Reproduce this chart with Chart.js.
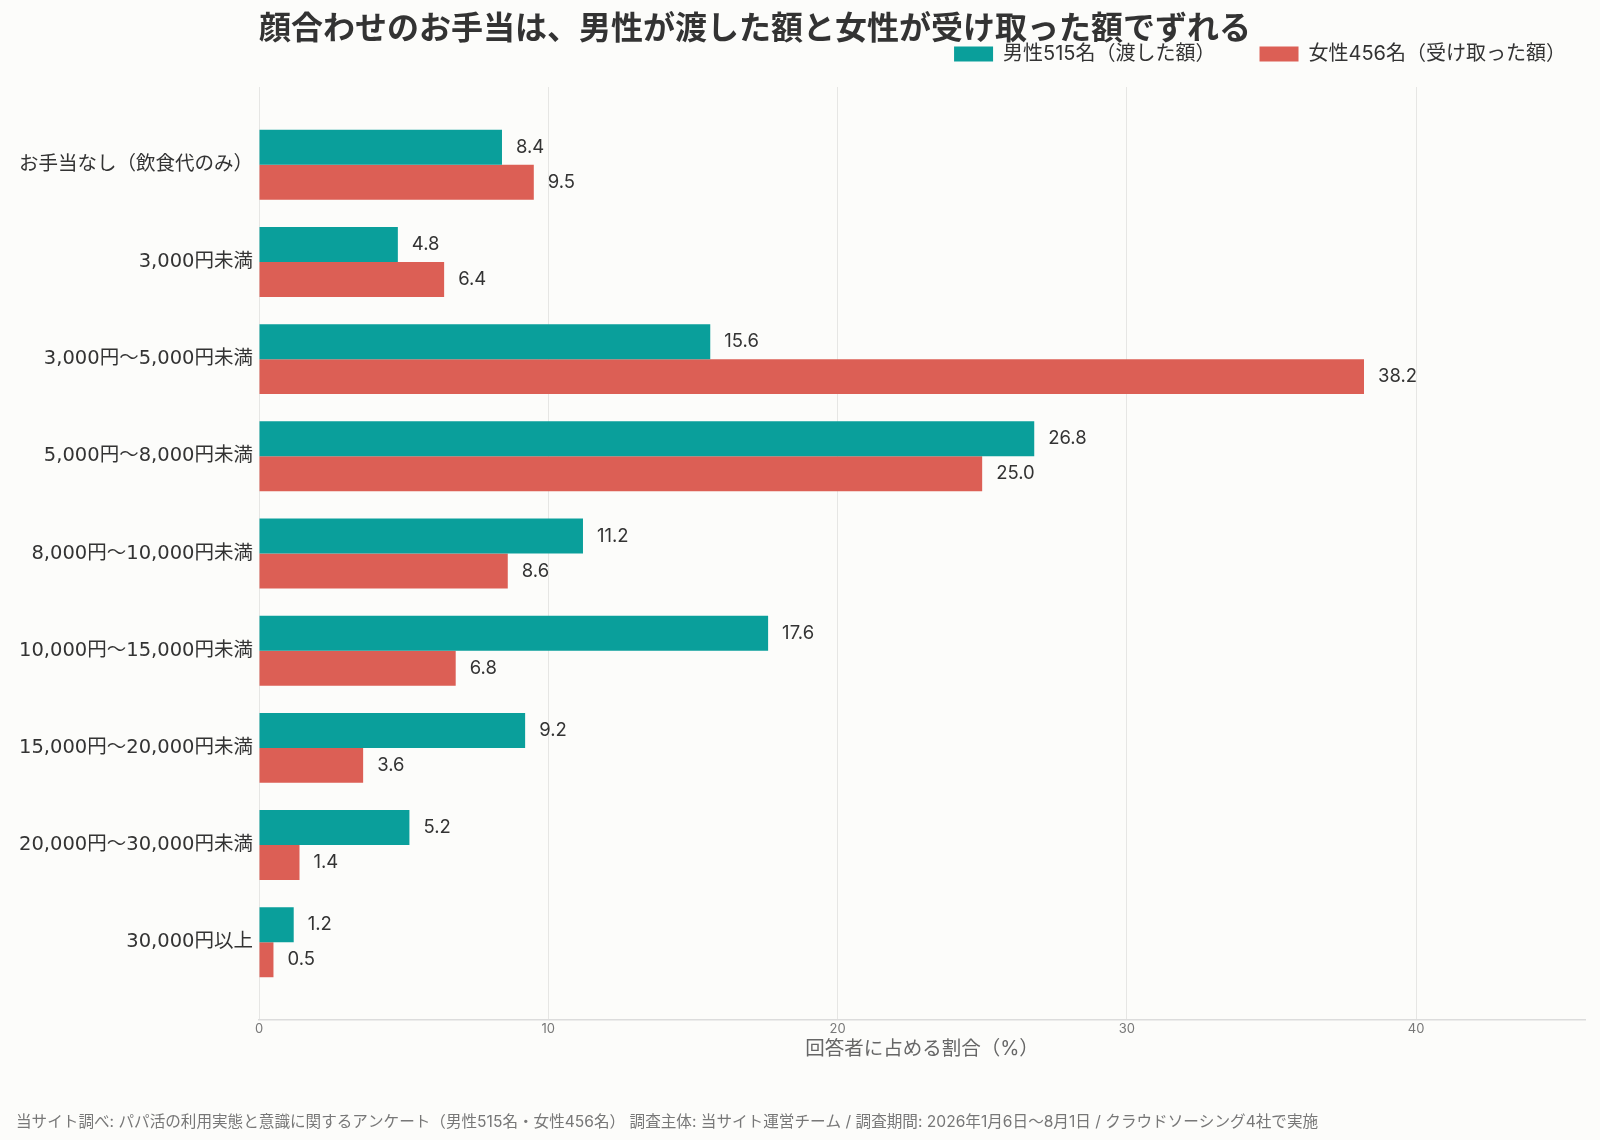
<!DOCTYPE html>
<html lang="ja">
<head>
<meta charset="utf-8">
<title>顔合わせのお手当</title>
<script src="https://cdn.jsdelivr.net/npm/chart.js@4.4.1/dist/chart.umd.min.js"></script>
<style>
  html, body { margin: 0; padding: 0; background: #fcfcfa; }
  #wrap { width: 1600px; height: 1140px; position: relative; }
</style>
</head>
<body>
<div id="wrap"><canvas id="chart"></canvas></div>
<script>
// 金額帯（上から順）
const categories = [
  "お手当なし（飲食代のみ）",
  "3,000円未満",
  "3,000円〜5,000円未満",
  "5,000円〜8,000円未満",
  "8,000円〜10,000円未満",
  "10,000円〜15,000円未満",
  "15,000円〜20,000円未満",
  "20,000円〜30,000円未満",
  "30,000円以上"
];

// 回答者に占める割合（%）
const maleGiven      = [8.4, 4.8, 15.6, 26.8, 11.2, 17.6, 9.2, 5.2, 1.2];
const femaleReceived = [9.5, 6.4, 38.2, 25.0, 8.6, 6.8, 3.6, 1.4, 0.5];

const xTicks = [0, 10, 20, 30, 40];

const TITLE  = "顔合わせのお手当は、男性が渡した額と女性が受け取った額でずれる";
const FOOTER = "当サイト調べ: パパ活の利用実態と意識に関するアンケート（男性515名・女性456名） 調査主体: 当サイト運営チーム / 調査期間: 2026年1月6日〜8月1日 / クラウドソーシング4社で実施";

const FONT = "Inter, 'Noto Sans CJK JP', sans-serif";
const TICK_FONT = "'DejaVu Sans', 'Noto Sans CJK JP', sans-serif";
const TEAL = "#0a9f9b";
const RED  = "#dc5f55";

const toPoints = (arr) => arr.map((v, i) => ({ x: v, y: i }));

// 背景・タイトル・出典・凡例位置の微調整
const decorPlugin = {
  id: "decor",
  beforeInit(chart) {
    // 凡例の下に余白を足す
    const lg = chart.legend;
    if (lg && !lg._fitPatched) {
      const orig = lg.fit.bind(lg);
      lg.fit = function () { orig(); this.height += 13; };
      lg._fitPatched = true;
    }
  },
  afterLayout(chart) {
    // 凡例を少し右へ
    const lg = chart.legend;
    if (lg) { lg.left += 25; lg.right += 25; }
  },
  beforeDraw(chart) {
    const c = chart.ctx;
    c.save();
    c.fillStyle = "#fcfcfa";
    c.fillRect(0, 0, chart.width, chart.height);
    c.restore();
  },
  afterDraw(chart) {
    const c = chart.ctx;
    c.save();
    c.fillStyle = "#333333";
    c.font = `bold 32px ${FONT}`;
    c.textBaseline = "middle";
    c.textAlign = "left";
    c.fillText(TITLE, chart.chartArea.left, 29);

    c.fillStyle = "#777777";
    c.font = `15.6px ${FONT}`;
    c.fillText(FOOTER, 16, 1122);
    c.restore();
  }
};

// 棒の先に数値
const valueLabels = {
  id: "valueLabels",
  afterDatasetsDraw(chart) {
    const c = chart.ctx;
    c.save();
    c.fillStyle = "#333333";
    c.font = `18.5px ${FONT}`;
    c.textBaseline = "middle";
    c.textAlign = "left";
    chart.data.datasets.forEach((ds, di) => {
      chart.getDatasetMeta(di).data.forEach((bar, i) => {
        c.fillText(ds.data[i].x.toFixed(1), bar.x + 14, bar.y);
      });
    });
    c.restore();
  }
};

new Chart(document.getElementById("chart"), {
  type: "bar",
  data: {
    datasets: [
      { label: "男性515名（渡した額）", data: toPoints(maleGiven), backgroundColor: TEAL },
      { label: "女性456名（受け取った額）", data: toPoints(femaleReceived), backgroundColor: RED }
    ]
  },
  options: {
    indexAxis: "y",
    responsive: true,
    maintainAspectRatio: false,
    animation: false,
    categoryPercentage: 0.72,
    barPercentage: 1,
    layout: { padding: { top: 0, right: 15, bottom: 75, left: 0 } },
    plugins: {
      title: { display: false },
      tooltip: { enabled: false },
      legend: {
        position: "top",
        align: "end",
        labels: {
          boxWidth: 39,
          boxHeight: 15,
          padding: 44,
          color: "#333333",
          font: { family: FONT, size: 20 }
        }
      }
    },
    scales: {
      x: {
        type: "linear",
        min: 0,
        max: 45.84,
        afterBuildTicks: (s) => { s.ticks = xTicks.map(v => ({ value: v })); },
        ticks: { color: "#777777", font: { family: FONT, size: 13 }, padding: 1 },
        grid: { color: "#e6e6e4", lineWidth: 1, drawTicks: false },
        border: { display: true, color: "#dcdcdc", width: 1.5 },
        title: {
          display: true,
          text: "回答者に占める割合（%）",
          color: "#666666",
          font: { family: FONT, size: 19.5 },
          padding: { top: 0, bottom: 4 }
        }
      },
      y: {
        type: "linear",
        reverse: true,
        min: -0.8,
        max: 8.8,
        offset: false,
        afterBuildTicks: (s) => { s.ticks = categories.map((_, i) => ({ value: i })); },
        afterFit: (s) => { s.width = 259; },
        ticks: {
          color: "#333333",
          font: { family: TICK_FONT, size: 19.5 },
          padding: 6,
          callback: (v) => categories[v]
        },
        grid: { display: false, drawTicks: false, offset: false },
        border: { display: false }
      }
    }
  },
  plugins: [decorPlugin, valueLabels]
});
</script>
</body>
</html>
